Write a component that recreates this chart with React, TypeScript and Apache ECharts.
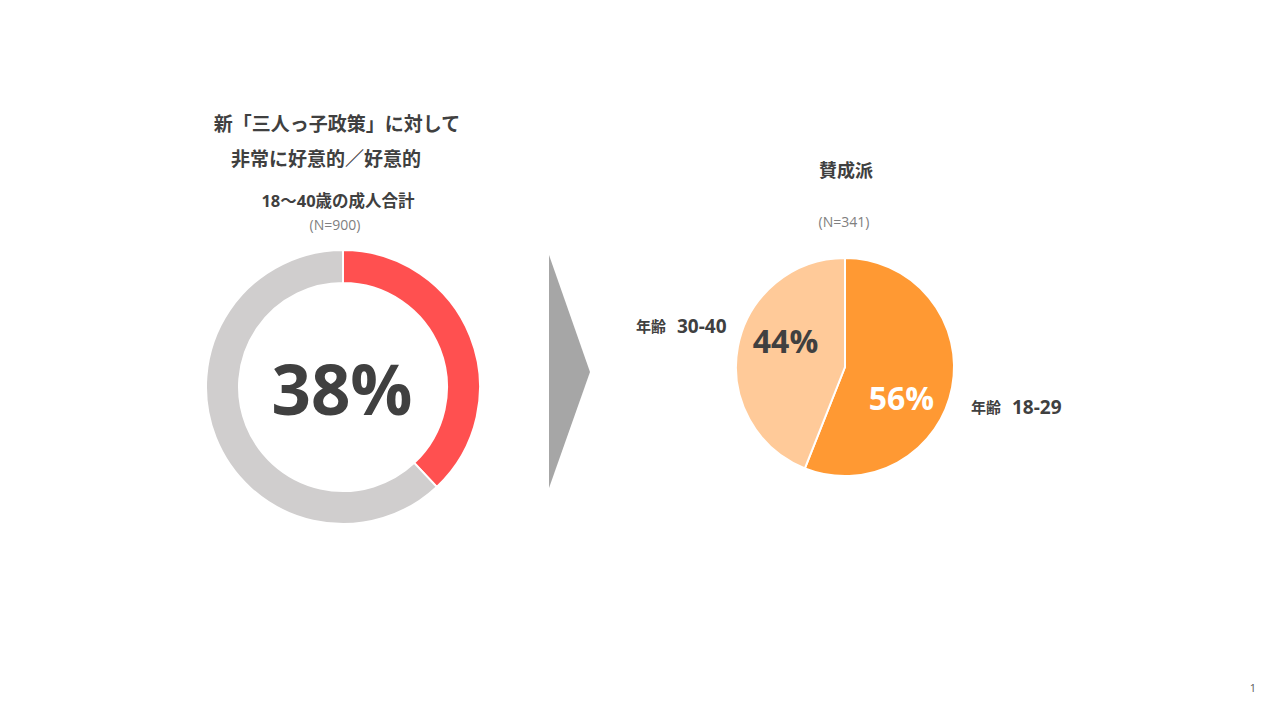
import React, { useEffect, useRef } from "react";
import * as echarts from "echarts";

const titleLines = ["新「三人っ子政策」に対して", "非常に好意的／好意的"];
const donutSubtitle = "18～40歳の成人合計";
const donutN = "(N=900)";
const donutCategories = ["非常に好意的／好意的", "その他"];
const donutValues = [38, 62];

const pieTitle = "賛成派";
const pieN = "(N=341)";
const agePrefix = "年齢";
const pieCategories = ["18-29", "30-40"];
const pieValues = [56, 44];

const FONT = "'Open Sans', 'Noto Sans CJK JP', sans-serif";
const DARK = "#404040";

export default function App() {
  const ref = useRef<HTMLDivElement>(null);
  useEffect(() => {
    const chart = echarts.init(ref.current!, null, { renderer: "svg" });
    const ageLabel = (x: number, y: number, cat: string) => ({
      type: "text",
      x,
      y,
      style: {
        text: "{a|" + agePrefix + "}{b|" + cat + "}",
        align: "left",
        verticalAlign: "middle",
        fill: DARK,
        rich: {
          a: {
            fontFamily: FONT,
            fontSize: 15,
            fontWeight: "bold",
            fill: DARK,
            padding: [0, 11, 0, 0],
          },
          b: {
            fontFamily: FONT,
            fontSize: 19,
            fontWeight: "bold",
            fill: DARK,
          },
        },
      },
    });
    const option = {
      animation: false,
      backgroundColor: "#ffffff",
      textStyle: { fontFamily: FONT },
      series: [
        {
          type: "pie",
          center: [343, 387],
          radius: [104, 137],
          startAngle: 90,
          clockwise: true,
          label: { show: false },
          labelLine: { show: false },
          emphasis: { disabled: true },
          itemStyle: { borderColor: "#ffffff", borderWidth: 2 },
          data: donutCategories.map((name, i) => ({
            name,
            value: donutValues[i],
            itemStyle: { color: ["#ff5050", "#d0cece"][i] },
          })),
        },
        {
          type: "pie",
          center: [845, 367],
          radius: [0, 109],
          startAngle: 90,
          clockwise: true,
          labelLine: { show: false },
          emphasis: { disabled: true },
          itemStyle: { borderColor: "#ffffff", borderWidth: 2 },
          label: {
            show: true,
            position: "inside",
            formatter: "{c}%",
            fontFamily: FONT,
            fontSize: 32,
            fontWeight: "bold",
          },
          data: pieCategories.map((name, i) => ({
            name: agePrefix + " " + name,
            value: pieValues[i],
            itemStyle: { color: ["#ff9933", "#ffca99"][i] },
            label: {
              color: ["#ffffff", DARK][i],
              offset: [[0, 20], [-3, -16]][i],
            },
          })),
        },
      ],
      graphic: [
        {
          type: "text",
          x: 337,
          y: 124,
          style: {
            text: titleLines[0],
            fontFamily: FONT,
            fontSize: 19,
            fontWeight: "bold",
            fill: DARK,
            align: "center",
            verticalAlign: "middle",
          },
        },
        {
          type: "text",
          x: 326,
          y: 159,
          style: {
            text: titleLines[1],
            fontFamily: FONT,
            fontSize: 19,
            fontWeight: "bold",
            fill: DARK,
            align: "center",
            verticalAlign: "middle",
          },
        },
        {
          type: "text",
          x: 338,
          y: 200,
          style: {
            text: donutSubtitle,
            fontFamily: FONT,
            fontSize: 16.5,
            fontWeight: "bold",
            fill: DARK,
            align: "center",
            verticalAlign: "middle",
          },
        },
        {
          type: "text",
          x: 335,
          y: 224,
          style: {
            text: donutN,
            fontFamily: FONT,
            fontSize: 14,
            fill: "#808080",
            align: "center",
            verticalAlign: "middle",
          },
        },
        {
          type: "text",
          x: 342,
          y: 388,
          style: {
            text: donutValues[0] + "%",
            fontFamily: FONT,
            fontSize: 69,
            fontWeight: "bold",
            fill: DARK,
            align: "center",
            verticalAlign: "middle",
          },
        },
        {
          type: "polygon",
          shape: { points: [[549, 255], [590, 372], [549, 488]] },
          style: { fill: "#a6a6a6" },
        },
        {
          type: "text",
          x: 846,
          y: 170,
          style: {
            text: pieTitle,
            fontFamily: FONT,
            fontSize: 18,
            fontWeight: "bold",
            fill: DARK,
            align: "center",
            verticalAlign: "middle",
          },
        },
        {
          type: "text",
          x: 844,
          y: 221,
          style: {
            text: pieN,
            fontFamily: FONT,
            fontSize: 14,
            fill: "#808080",
            align: "center",
            verticalAlign: "middle",
          },
        },
        ageLabel(971, 407, pieCategories[0]),
        ageLabel(636, 326, pieCategories[1]),
        {
          type: "text",
          x: 1253,
          y: 687,
          style: {
            text: "1",
            fontFamily: FONT,
            fontSize: 11,
            fill: "#595959",
            align: "center",
            verticalAlign: "middle",
          },
        },
      ],
    };
    chart.setOption(option);
    return () => chart.dispose();
  }, []);
  return (
    <div
      ref={ref}
      style={{ position: "fixed", left: 0, top: 0, width: 1280, height: 720 }}
    />
  );
}
